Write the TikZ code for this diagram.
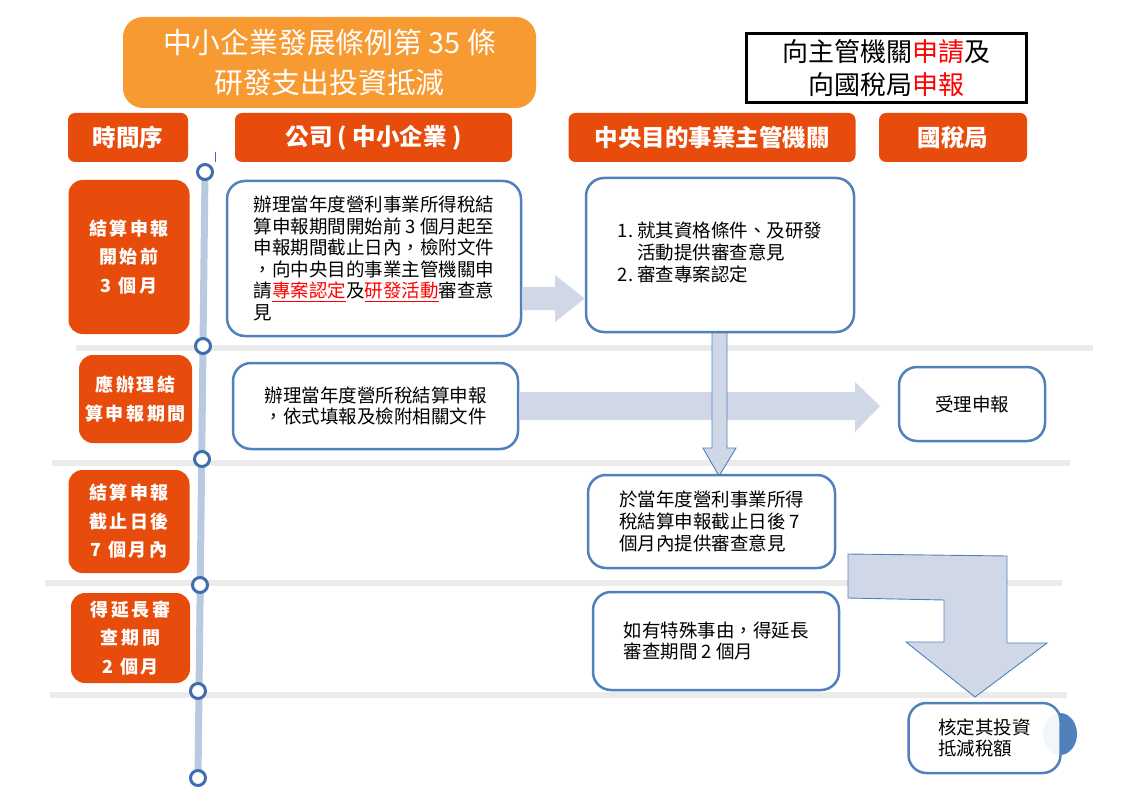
\documentclass[tikz,border=0pt]{standalone}
\usepackage{fontspec}
\setmainfont{Noto Sans CJK TC}
\definecolor{ored}{HTML}{E84C0C}
\definecolor{tor}{HTML}{F89A32}
\definecolor{bx}{HTML}{4F81BD}
\definecolor{afill}{HTML}{D0D8E8}
\definecolor{bandc}{HTML}{EBEBEB}
\definecolor{tl}{HTML}{B7CADF}
\definecolor{circ}{HTML}{3E6EAE}
\definecolor{rtext}{HTML}{FF0000}
\begin{document}
\begin{tikzpicture}[x=1pt,y=-1pt,
  hdr/.style={fill=ored, rounded corners=7pt, text=white, inner sep=0pt,
    font=\fontsize{23.5}{27}\selectfont\bfseries},
  lbl/.style={fill=ored, rounded corners=14pt, text=white, align=center, inner sep=0pt,
    font=\fontsize{18}{28.5}\selectfont\bfseries\addfontfeatures{LetterSpace=14}},
  box/.style={draw=bx, line width=2.5pt, fill=white, rounded corners=18pt,
    align=left, inner sep=0pt, font=\fontsize{18.5}{21.6}\selectfont},
  bandline/.style={fill=bandc, draw=none},
  arr/.style={fill=afill, draw=none},
  arro/.style={fill=afill, draw=bx, line width=0.9pt, line join=miter},
  tdot/.style={circle, draw=circ, line width=3pt, fill=white, minimum size=15pt, inner sep=0pt}
]
\useasboundingbox (0,0) rectangle (1123,794);

% gray separators
\fill[bandline] (76,345) rectangle (1093,351);
\fill[bandline] (52,460) rectangle (1070,466);
\fill[bandline] (45,580) rectangle (1062,586);
\fill[bandline] (50,692) rectangle (1067,698);

% title
\node[fill=tor, rounded corners=20pt, minimum width=413pt, minimum height=91pt, inner sep=0pt,
  text=white, align=center, font=\fontsize{28.8}{40}\selectfont] (title) at (329.5,62.5)
  {中小企業發展條例第 35 條\\研發支出投資抵減};

\node[draw=black, line width=3pt, fill=white, minimum width=280pt, minimum height=69pt, inner sep=0pt,
  align=center, font=\fontsize{26}{33}\selectfont] (legend) at (886.5,68.5)
  {向主管機關\textcolor{rtext}{申請}及\\向國稅局\textcolor{rtext}{申報}};

% headers
\node[hdr, minimum width=120pt, minimum height=49pt] (h0) at (128,137.5) {時間序};
\node[hdr, minimum width=277pt, minimum height=49pt] (h1) at (373.5,137.5) {公司 ( 中小企業 )};
\node[hdr, minimum width=287pt, minimum height=49pt] (h2) at (712,137.5) {中央目的事業主管機關};
\node[hdr, minimum width=148pt, minimum height=49pt] (h3) at (953,137.5) {國稅局};

\draw[circ, line width=1pt] (215,152) -- (215,162);

% left labels
\node[lbl, minimum width=121pt, minimum height=154pt] (l1) at (129,257) {結算申報\\開始前\\3 個月};
\node[lbl, minimum width=113pt, minimum height=88pt] (l2) at (135.5,399) {應辦理結\\算申報期間};
\node[lbl, minimum width=121pt, minimum height=103pt] (l3) at (129,521.5) {結算申報\\截止日後\\7 個月內};
\node[lbl, minimum width=119pt, minimum height=90pt] (l4) at (130.5,638) {得延長審\\查期間\\2 個月};

% timeline
\coordinate (ta) at (205,172);
\coordinate (tb) at (198,778);
\draw[tl, line width=7pt] (ta) -- (tb);
\node[tdot] (t1) at (205,172) {};
\node[tdot] (t2) at (203,346) {};
\node[tdot] (t3) at (202,459) {};
\node[tdot] (t4) at (200,585) {};
\node[tdot] (t5) at (198,691) {};
\node[tdot] (t6) at (198,778) {};

% boxes
\node[box, minimum width=294pt, minimum height=155pt] (c1) at (374,258.5)
  {辦理當年度營利事業所得稅結\\算申報期間開始前 3 個月起至\\申報期間截止日內，檢附文件\\，向中央目的事業主管機關申\\請\textcolor{rtext}{\underline{專案認定}}及\textcolor{rtext}{\underline{研發活動}}審查意\\見};

\node[box, minimum width=268pt, minimum height=154pt] (m1) at (720,255)
  {\begin{tabular}{@{}l@{\hspace{4pt}}l@{}}1. & 就其資格條件、及研發\\ & 活動提供審查意見\\ 2. & 審查專案認定\end{tabular}};

\node[box, minimum width=285pt, minimum height=86pt] (c2) at (375.5,406)
  {辦理當年度營所稅結算申報\\，依式填報及檢附相關文件};

\node[box, minimum width=146pt, minimum height=74pt] (r1) at (972,404) {受理申報};

% arrows
\fill[arr] (c1.east |- 0,287) -- (555,287) -- (555,275) -- (m1.west |- 0,298.5)
  -- (555,322) -- (555,310) -- (c1.east |- 0,310) -- cycle;
\fill[arr] (c2.east |- 0,392) -- (855,392) -- (855,382) -- (880,406)
  -- (855,432) -- (855,420) -- (c2.east |- 0,420) -- cycle;
\filldraw[arro] (712,333) -- (712,448) -- (703,448) -- (719,476) -- (736,448)
  -- (727,448) -- (727,333) -- cycle;

\node[box, minimum width=247pt, minimum height=93pt] (m2) at (711.5,521.5)
  {於當年度營利事業所得\\稅結算申報截止日後 7\\個月內提供審查意見};

\node[box, minimum width=246pt, minimum height=98pt] (m3) at (716,641)
  {如有特殊事由，得延長\\審查期間 2 個月};

\filldraw[arro] (848,554) -- (1007,556) -- (1007,643) -- (1047,643) -- (975,697)
  -- (906,642) -- (944,642) -- (944,600) -- (848,598) -- cycle;

\fill[bx] (1060,734) ellipse [x radius=17pt, y radius=21pt];
\node[box, fill opacity=0.93, text opacity=1, minimum width=152pt, minimum height=70pt] (r2) at (984.5,738)
  {核定其投資\\抵減稅額};
\end{tikzpicture}
\end{document}
